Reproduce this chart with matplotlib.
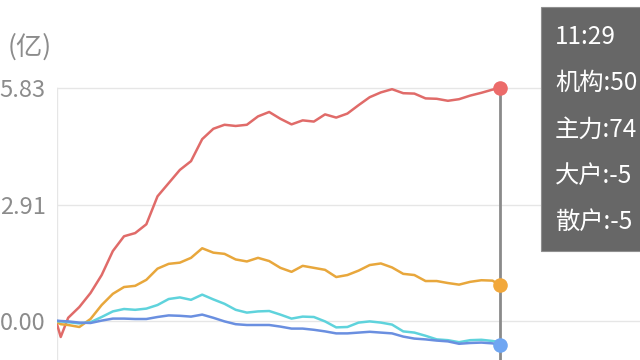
import matplotlib
matplotlib.use('Agg')
import matplotlib.pyplot as plt
from matplotlib.patches import Rectangle

plt.rcParams['font.family'] = ['Noto Sans CJK SC', 'DejaVu Sans']

# minutes since 9:30, cursor at 11:29
minutes = [0, 1, 3, 6, 9, 12, 15, 18, 21, 24, 27, 30, 33, 36, 39, 42, 45, 48, 51, 54,
           57, 60, 63, 66, 69, 72, 75, 78, 81, 84, 87, 90, 93, 96, 99, 102, 105, 108,
           111, 114, 117, 119]

# 亿
jigou = [-0.08, -0.40, 0.08, 0.35, 0.70, 1.15, 1.75, 2.12, 2.20, 2.42, 3.12, 3.45, 3.78,
         4.00, 4.55, 4.81, 4.91, 4.88, 4.91, 5.12, 5.23, 5.06, 4.92, 5.02, 4.99, 5.17,
         5.09, 5.19, 5.40, 5.60, 5.72, 5.80, 5.70, 5.69, 5.57, 5.56, 5.51, 5.55, 5.64,
         5.71, 5.79, 5.83]
zhuli = [-0.03, -0.08, -0.10, -0.15, 0.05, 0.40, 0.68, 0.85, 0.88, 1.03, 1.31, 1.43, 1.46,
         1.58, 1.82, 1.71, 1.68, 1.54, 1.49, 1.58, 1.50, 1.33, 1.23, 1.38, 1.33, 1.28,
         1.10, 1.15, 1.26, 1.40, 1.44, 1.34, 1.18, 1.15, 1.00, 1.00, 0.95, 0.91, 0.98,
         1.02, 1.01, 0.89]
dahu = [-0.01, -0.01, -0.03, -0.06, -0.03, 0.10, 0.24, 0.30, 0.28, 0.31, 0.40, 0.55, 0.59,
        0.53, 0.66, 0.54, 0.43, 0.28, 0.21, 0.24, 0.25, 0.16, 0.06, 0.11, 0.10, -0.01,
        -0.16, -0.15, -0.04, -0.01, -0.04, -0.09, -0.26, -0.29, -0.37, -0.46, -0.48,
        -0.53, -0.48, -0.47, -0.50, -0.53]
sanhu = [0.01, 0.00, -0.01, -0.04, -0.05, 0.01, 0.06, 0.06, 0.05, 0.05, 0.10, 0.14, 0.13,
         0.11, 0.16, 0.08, -0.01, -0.08, -0.10, -0.10, -0.10, -0.14, -0.19, -0.19, -0.22,
         -0.26, -0.31, -0.31, -0.29, -0.27, -0.29, -0.31, -0.39, -0.44, -0.46, -0.49,
         -0.51, -0.57, -0.55, -0.54, -0.56, -0.60]

yticks = [0.00, 2.91, 5.83]
ytick_labels = ['0.00', '2.91', '5.83']
tip_lines = ['11:29', '机构:50', '主力:74', '大户:-5', '散户:-5']

W, H = 640, 360
x0_px, x1_px = 57, 500          # 9:30 and 11:29 in pixels
y0_px, ytop_px = 321, 88         # 0.00 and 5.83 in pixels
px_min = (x1_px - x0_px) / minutes[-1]
px_unit = (y0_px - ytop_px) / yticks[-1]

fig = plt.figure(figsize=(6.4, 3.6), dpi=100)
ax = fig.add_axes([x0_px / W, 0, 1 - x0_px / W, 1])
ax.set_xlim(0, (W - x0_px) / px_min)
ylo, yhi = -(H - y0_px) / px_unit, y0_px / px_unit
ax.set_ylim(ylo, yhi)

for s in ax.spines.values():
    s.set_visible(False)
ax.set_xticks([])
ax.set_yticks(yticks)
ax.set_yticklabels(ytick_labels)
ax.tick_params(axis='y', length=0, pad=8, labelsize=17, labelcolor='#8c8c8c')
ax.yaxis.grid(True, color='#e6e6e6', lw=1)
ax.set_axisbelow(True)
frac = lambda v: (v - ylo) / (yhi - ylo)
ax.axvline(0, ymax=frac(yticks[-1]), color='#e6e6e6', lw=1)

ax.plot(minutes, jigou, color='#e06b69', lw=1.8)
ax.plot(minutes, zhuli, color='#e8a73c', lw=1.8)
ax.plot(minutes, dahu, color='#5fd3dc', lw=1.8)
ax.plot(minutes, sanhu, color='#6a8fe0', lw=1.8)

# cursor
ax.axvline(minutes[-1], ymax=frac(jigou[-1]), color='#8a8a8a', lw=2)
ax.plot(minutes[-1], jigou[-1], 'o', ms=10.5, color='#ec6b6a', mec='none')
ax.plot(minutes[-1], zhuli[-1], 'o', ms=10.5, color='#f2a83b', mec='none')
ax.plot(minutes[-1], sanhu[-1], 'o', ms=10.5, color='#6fa6f2', mec='none', clip_on=False)

fig.text(30 / W, 1 - 47 / H, '(亿)', ha='center', va='center', fontsize=19, color='#8c8c8c')

tip = Rectangle((541 / W, 1 - 251 / H), (W - 541) / W + 0.02, 244 / H,
                transform=fig.transFigure, facecolor='#676767', edgecolor='#8f8f8f',
                lw=0.8, zorder=5)
fig.add_artist(tip)
for i, s in enumerate(tip_lines):
    fig.text(555 / W, 1 - (37 + 46.3 * i) / H, s, color='white', fontsize=17.5,
             va='center', ha='left', zorder=6)

fig.savefig('out.png', dpi=100)
